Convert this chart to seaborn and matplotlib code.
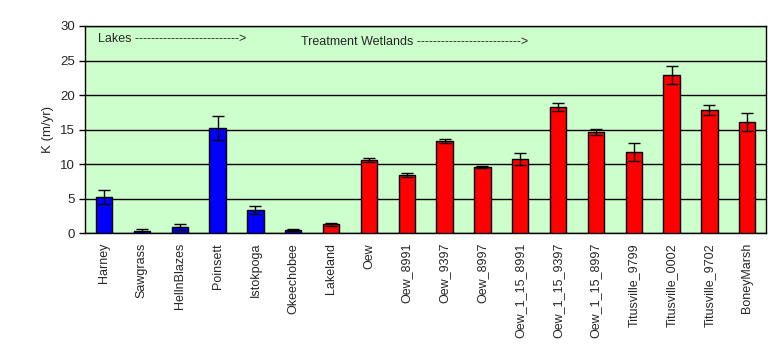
import matplotlib
matplotlib.use('Agg')
import matplotlib.pyplot as plt
import seaborn as sns
import pandas as pd

sites = ['Harney', 'Sawgrass', 'HellnBlazes', 'Poinsett', 'Istokpoga', 'Okeechobee',
         'Lakeland', 'Oew', 'Oew_8991', 'Oew_9397', 'Oew_8997', 'Oew_1_15_8991',
         'Oew_1_15_9397', 'Oew_1_15_8997', 'Titusville_9799', 'Titusville_0002',
         'Titusville_9702', 'BoneyMarsh']
kvals = [5.2, 0.33, 0.87, 15.2, 3.33, 0.43,
         1.3, 10.6, 8.4, 13.3, 9.56, 10.7,
         18.26, 14.6, 11.7, 22.9, 17.8, 16.1]
kerr = [1.0, 0.3, 0.45, 1.7, 0.58, 0.15,
        0.2, 0.3, 0.3, 0.3, 0.15, 0.9,
        0.58, 0.43, 1.3, 1.3, 0.72, 1.3]
groups = ['lake'] * 6 + ['wetland'] * 12

df = pd.DataFrame({'site': sites, 'K': kvals, 'err': kerr, 'group': groups})

sns.set_style('white')
plt.rcParams['font.family'] = ['Liberation Sans', 'DejaVu Sans']
plt.rcParams['font.size'] = 9

fig = plt.figure(figsize=(7.81, 3.56), dpi=100)
ax = fig.add_axes([0.109, 0.345, 0.872, 0.582])
ax.set_facecolor('#CCFFCC')

sns.barplot(data=df, x='site', y='K', hue='group', dodge=False, width=0.43,
            palette={'lake': '#0000FF', 'wetland': '#FF0000'}, saturation=1,
            edgecolor='black', linewidth=1, legend=False, ax=ax, zorder=3)
ax.errorbar(range(len(sites)), df['K'], yerr=df['err'], fmt='none',
            ecolor='black', elinewidth=1, capsize=4, capthick=1, zorder=4)

ax.set_ylim(0, 30)
ax.set_xlim(-0.5, len(sites) - 0.5)
ax.set_yticks(range(0, 31, 5))
ax.yaxis.grid(True, color='black', linewidth=1, zorder=1)
ax.set_axisbelow(True)
ax.tick_params(axis='y', length=4, width=1, color='black', left=True, labelsize=9.5)
ax.tick_params(axis='x', length=0, labelsize=9, pad=7)
plt.setp(ax.get_xticklabels(), rotation=90)
for s in ax.spines.values():
    s.set_color('black')
    s.set_linewidth(1)
ax.set_xlabel('')
ax.set_ylabel('K (m/yr)', fontsize=9.5)

ax.text(0.019, 0.935, 'Lakes ' + '-' * 26 + '>', transform=ax.transAxes,
        fontsize=9, va='center', ha='left')
ax.text(0.317, 0.925, 'Treatment Wetlands ' + '-' * 26 + '>', transform=ax.transAxes,
        fontsize=9, va='center', ha='left')

fig.savefig('out.png', dpi=100)
